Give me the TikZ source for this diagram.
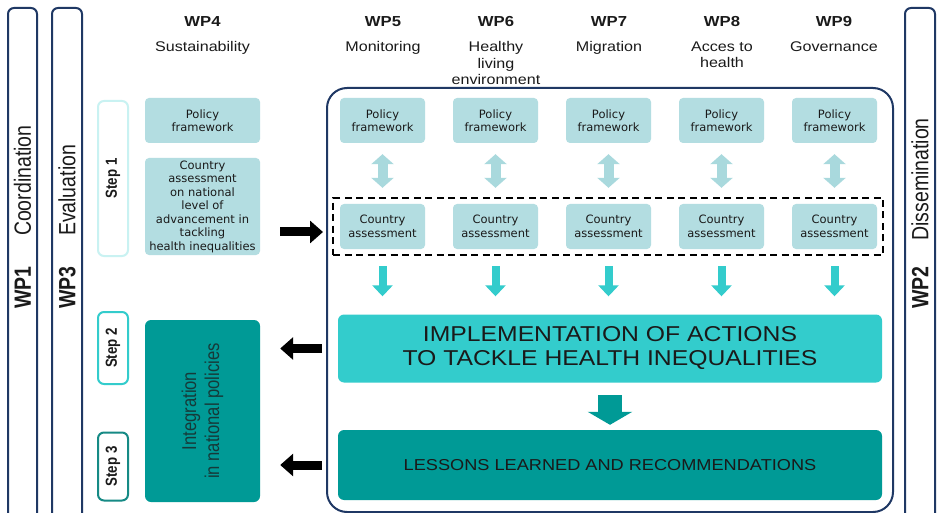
\documentclass[tikz,border=0pt]{standalone}
\usepackage{fontspec}
\setmainfont{Liberation Sans}[FakeStretch=1.15]
\newfontfamily\condfont{Liberation Sans}[FakeStretch=0.83]
\newfontfamily\boxfont{DejaVu Sans}
\usetikzlibrary{arrows.meta}
\definecolor{navy}{HTML}{1F3864}
\definecolor{lightbox}{HTML}{B3DDE1}
\definecolor{lightarrow}{HTML}{A9D9DD}
\definecolor{cyanbox}{HTML}{33CCCC}
\definecolor{tealbox}{HTML}{009A96}
\definecolor{stepone}{HTML}{C9F2F2}
\definecolor{stepthree}{HTML}{168A85}
\definecolor{inttext}{HTML}{163A39}
\definecolor{txt}{HTML}{1A1A1A}
\tikzset{
  wpbar/.style={draw=navy, line width=2pt, rounded corners=6pt},
  barlabel/.style={rotate=90, anchor=west, inner sep=0pt, text=txt, font=\condfont\fontsize{23.5}{23.5}\selectfont},
  stepbox/.style={rotate=90, draw, line width=2pt, rounded corners=6pt, fill=white, inner sep=0pt, text=txt, font=\condfont\bfseries\fontsize{16}{16}\selectfont},
  lbox/.style={fill=lightbox, rounded corners=4pt, inner sep=0pt, align=center, text=txt, font=\boxfont\fontsize{11.5}{13.5}\selectfont},
  wphead/.style={anchor=base, inner sep=0pt, text=txt, font=\bfseries\fontsize{14.5}{16.5}\selectfont},
  wpsub/.style={anchor=north, inner sep=0pt, align=center, text=txt, font=\fontsize{14}{16.2}\selectfont},
  blk/.style={line width=9pt, -{Triangle[length=13pt,width=22pt]}, black},
  dblarr/.style={line width=10pt, lightarrow, {Triangle[length=10pt,width=22pt]}-{Triangle[length=10pt,width=22pt]}},
  tealarr/.style={line width=8pt, cyanbox, -{Triangle[length=11pt,width=20pt]}},
  bigarr/.style={line width=24pt, tealbox, -{Triangle[length=13pt,width=44pt]}}
}
\begin{document}
\begin{tikzpicture}[x=1pt,y=-1pt]
\useasboundingbox (0,0) rectangle (937,513);
\clip (0,0) rectangle (937,513);
\fill[white] (0,0) rectangle (937,513);

% side bars
\draw[wpbar] (8,530) -- (8,8) -- (37,8) -- (37,530);
\draw[wpbar] (52,530) -- (52,8) -- (82,8) -- (82,530);
\draw[wpbar] (905,530) -- (905,8) -- (935,8) -- (935,530);
\node[barlabel] (l1) at (22.5,309) {\textbf{WP1}\hspace{1.3em}Coordination};
\node[barlabel] (l3) at (67,309) {\textbf{WP3}\hspace{1.3em}Evaluation};
\node[barlabel] (l2) at (920,309) {\textbf{WP2}\hspace{1.1em}Dissemination};

% step boxes
\node[stepbox, draw=stepone, minimum width=155pt, minimum height=30pt] (s1) at (113,178.5) {Step 1};
\node[stepbox, draw=cyanbox, minimum width=72pt, minimum height=30pt] (s2) at (113,348) {Step 2};
\node[stepbox, draw=stepthree, minimum width=68pt, minimum height=30pt] (s3) at (113,466.5) {Step 3};

% headers
\node[wphead] (h4) at (202.5,27) {WP4};
\node[wphead] (h5) at (383,27) {WP5};
\node[wphead] (h6) at (496,27) {WP6};
\node[wphead] (h7) at (609,27) {WP7};
\node[wphead] (h8) at (722,27) {WP8};
\node[wphead] (h9) at (834,27) {WP9};
\node[wpsub] (t4) at (202.5,41.5) {Sustainability};
\node[wpsub] (t5) at (383,41.5) {Monitoring};
\node[wpsub] (t6) at (496,41.5) {Healthy\\living\\environment};
\node[wpsub] (t7) at (609,41.5) {Migration};
\node[wpsub] (t8) at (722,41.5) {Acces to\\health};
\node[wpsub] (t9) at (834,41.5) {Governance};

% WP4 column
\node[lbox, minimum width=115pt, minimum height=45pt] (pf4) at (202.5,120.5) {Policy\\framework};
\node[lbox, minimum width=115pt, minimum height=97pt] (ca4) at (202.5,206.5) {Country\\assessment\\on national\\level of\\advancement in\\tackling\\health inequalities};
\node[fill=tealbox, rounded corners=6pt, minimum width=115pt, minimum height=182pt, inner sep=0pt] (int) at (202.5,411) {};
\node[rotate=90, align=center, text=inttext, inner sep=0pt, font=\condfont\fontsize{20}{23}\selectfont] (intt) at (int.center) {Integration\\in national policies};

% big box
\node[draw=navy, line width=2pt, rounded corners=20pt, minimum width=566pt, minimum height=424pt, inner sep=0pt] (big) at (610,300) {};
\node[draw=black, line width=2pt, dash pattern=on 7pt off 4.5pt, minimum width=550pt, minimum height=57pt, inner sep=0pt] (dash) at (608,226.5) {};

\foreach \i/\x in {5/382.5,6/495.5,7/608.5,8/721.5,9/834.5}{
  \node[lbox, minimum width=85pt, minimum height=45pt] (pf\i) at (\x,120.5) {Policy\\framework};
  \node[lbox, minimum width=85pt, minimum height=45pt] (ca\i) at (\x,226.5) {Country\\assessment};
}

\node[fill=cyanbox, rounded corners=6pt, minimum width=544pt, minimum height=68pt, inner sep=0pt, align=center, text=txt, font=\fontsize{21.5}{24}\selectfont] (imp) at (610,348.5) {IMPLEMENTATION OF ACTIONS\\TO TACKLE HEALTH INEQUALITIES};
\node[fill=tealbox, rounded corners=6pt, minimum width=544pt, minimum height=70pt, inner sep=0pt, text=txt, font=\fontsize{15.8}{18}\selectfont] (les) at (610,465) {LESSONS LEARNED AND RECOMMENDATIONS};

% arrows inside
\foreach \i in {5,6,7,8,9}{
  \draw[dblarr, shorten <=11pt, shorten >=16pt] (pf\i.south) -- (ca\i.north);
  \draw[tealarr, shorten <=17pt, shorten >=18pt] (ca\i.south) -- (ca\i.south |- imp.north);
}
\draw[bigarr, shorten <=12.5pt, shorten >=5pt] (imp.south) -- (imp.south |- les.north);

% black arrows
\coordinate (a1s) at (280,232);
\coordinate (a1e) at (323,232);
\draw[blk] (a1s) -- (a1e);
\draw[blk, shorten <=4pt, shorten >=20pt] (big.west |- imp) -- (int.east |- imp);
\draw[blk, shorten <=4pt, shorten >=20pt] (big.west |- les) -- (int.east |- les);
\end{tikzpicture}
\end{document}
